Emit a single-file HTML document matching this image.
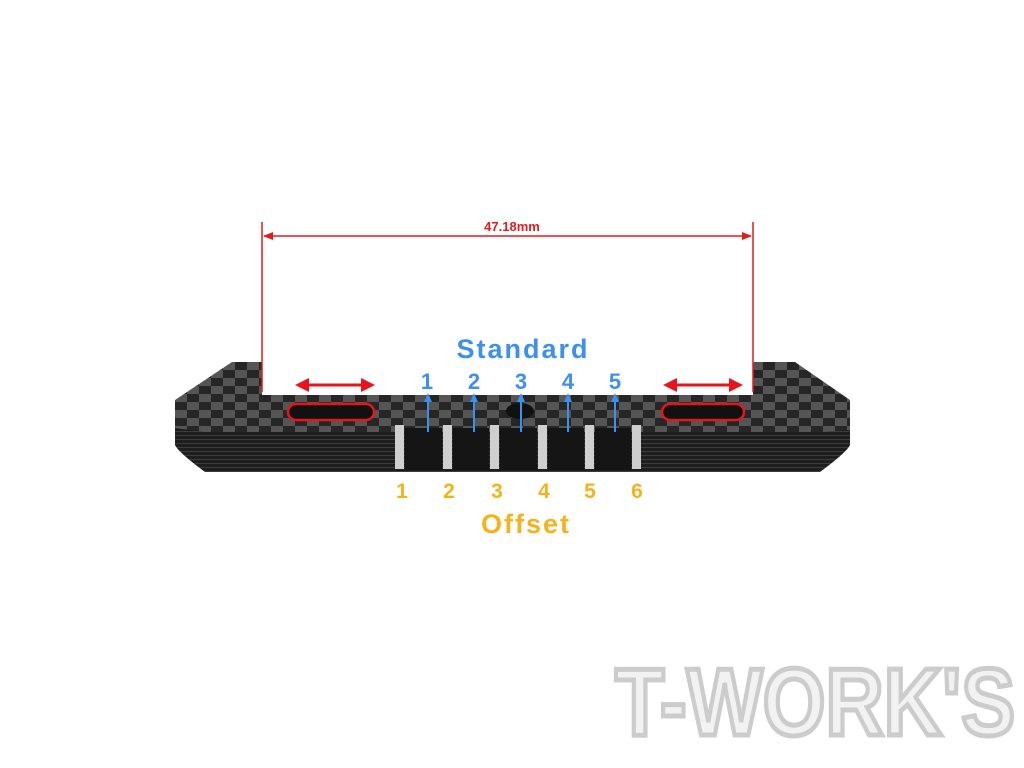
<!DOCTYPE html>
<html><head><meta charset="utf-8"><style>
html,body{margin:0;padding:0;background:#fff;}
svg{display:block}
</style></head><body>
<svg width="1024" height="768" viewBox="0 0 1024 768" xmlns="http://www.w3.org/2000/svg">
<defs>
<pattern id="cf" width="24" height="16" patternUnits="userSpaceOnUse" x="175" y="362">
<rect width="24" height="16" fill="#262626"/>
<rect width="12" height="8" fill="#555"/>
<rect x="12" y="8" width="12" height="8" fill="#555"/>
</pattern>
<pattern id="ln" width="10" height="4" patternUnits="userSpaceOnUse">
<rect width="10" height="4" fill="#1e1e1e"/>
<rect y="3" width="10" height="1" fill="#3c3c3c"/>
</pattern>
</defs>
<path d="M175,410 L175,445 Q178,452 205,472 L820,472 Q847,452 850,445 L850,410 Z" fill="url(#ln)"/>
<path d="M232,362 L262,362 L262,395 L753,395 L753,362 L795,362 L850,400 L850,430 L820,432 L205,432 L175,428 L175,400 Z" fill="url(#cf)"/>
<g fill="#cfcfcf">
<rect x="395" y="425" width="9" height="44"/><rect x="443" y="425" width="9" height="44"/>
<rect x="490" y="425" width="9" height="44"/><rect x="538" y="425" width="9" height="44"/>
<rect x="585" y="425" width="9" height="44"/><rect x="632" y="425" width="9" height="44"/>
</g>
<g fill="#151515">
<rect x="405" y="428" width="37" height="42"/><rect x="453" y="428" width="36" height="42"/>
<rect x="500" y="428" width="37" height="42"/><rect x="548" y="428" width="36" height="42"/>
<rect x="595" y="428" width="36" height="42"/>
</g>
<ellipse cx="520" cy="411" rx="14" ry="8" fill="#111"/>
<g stroke="#e21c1c" stroke-width="1.5" fill="none">
<line x1="262" y1="222" x2="262" y2="392"/><line x1="753" y1="222" x2="753" y2="392"/>
<line x1="264" y1="236" x2="751" y2="236"/>
</g>
<path d="M263,236 l10,-4 v8z M752,236 l-10,-4 v8z" fill="#e21c1c"/>
<text x="512" y="231" font-family="Liberation Sans,sans-serif" font-weight="bold" font-size="13" fill="#e21c1c" text-anchor="middle">47.18mm</text>
<g stroke="#e8141c" stroke-width="3"><line x1="305" y1="385" x2="365" y2="385"/><line x1="673" y1="385" x2="733" y2="385"/></g>
<path d="M295,385 l14,-7 v14z M375,385 l-14,-7 v14z M663,385 l14,-7 v14z M743,385 l-14,-7 v14z" fill="#e8141c"/>
<g fill="#111" stroke="#e8141c" stroke-width="2.5">
<rect x="288" y="404" width="86" height="16" rx="8"/><rect x="662" y="404" width="82" height="16" rx="8"/>
</g>
<text x="523" y="358" font-family="Liberation Sans,sans-serif" font-weight="bold" font-size="27" letter-spacing="2" fill="#3d8ff0" text-anchor="middle">Standard</text>
<g font-family="Liberation Sans,sans-serif" font-weight="bold" font-size="22" fill="#3d8ff0" text-anchor="middle">
<text x="427" y="389">1</text><text x="474" y="389">2</text><text x="521" y="389">3</text><text x="568" y="389">4</text><text x="615" y="389">5</text>
</g>
<g stroke="#3d8ff0" stroke-width="2">
<line x1="428" y1="400" x2="428" y2="432"/><line x1="474" y1="400" x2="474" y2="432"/><line x1="521" y1="400" x2="521" y2="432"/><line x1="568" y1="400" x2="568" y2="432"/><line x1="615" y1="400" x2="615" y2="432"/>
</g>
<path d="M428,393 l-4,9 h8z M474,393 l-4,9 h8z M521,393 l-4,9 h8z M568,393 l-4,9 h8z M615,393 l-4,9 h8z" fill="#3d8ff0"/>
<g font-family="Liberation Sans,sans-serif" font-weight="bold" font-size="21" fill="#f5b21b" text-anchor="middle">
<text x="402" y="498">1</text><text x="449" y="498">2</text><text x="497" y="498">3</text><text x="544" y="498">4</text><text x="590" y="498">5</text><text x="637" y="498">6</text>
</g>
<text x="526" y="533" font-family="Liberation Sans,sans-serif" font-weight="bold" font-size="27" letter-spacing="2" fill="#f5b21b" text-anchor="middle">Offset</text>
<text x="815" y="735" font-family="Liberation Sans,sans-serif" font-weight="bold" font-size="96" fill="#f2f2f2" stroke="#cccccc" stroke-width="5" text-anchor="middle" textLength="400" lengthAdjust="spacingAndGlyphs">T-WORK'S</text>
</svg>
</body></html>
